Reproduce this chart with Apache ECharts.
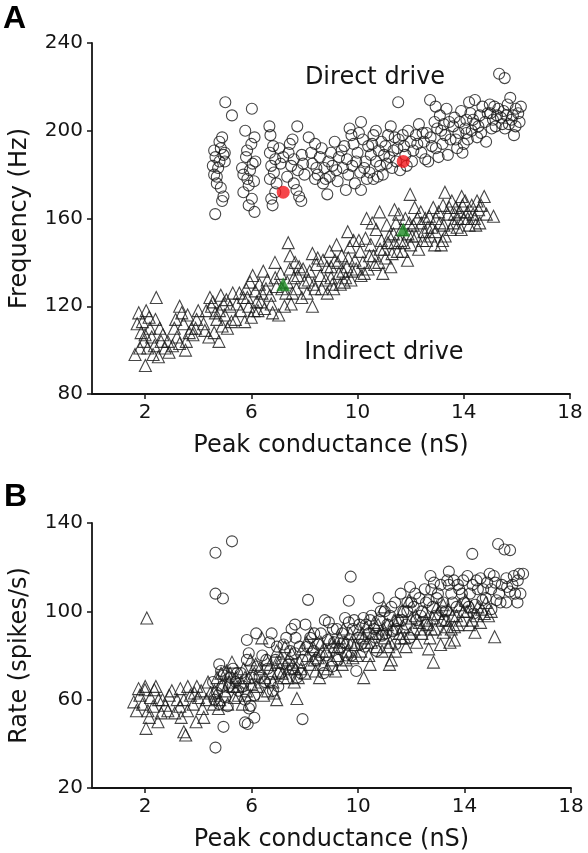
<!DOCTYPE html>
<html><head><meta charset="utf-8">
<script src="https://cdn.jsdelivr.net/npm/echarts@6/dist/echarts.min.js"></script>
<style>html,body{margin:0;padding:0;background:#fff}#c{width:588px;height:853px}</style>
</head><body><div id="c"></div>
<script>
// ---------- DATA ----------
const xTickValues = [2, 6, 10, 14, 18];
const xLabel = 'Peak conductance (nS)';
const yLabelA = 'Frequency (Hz)';
const yLabelB = 'Rate (spikes/s)';

// Panel A: direct drive (circles) [conductance nS, frequency Hz]
const directFreq = [
[4.64,162],[4.9,168],[4.95,170],[4.7,176],[4.6,180],[4.75,183],[4.55,184],[4.8,186],[5.0,186],[4.95,189],[4.6,191],[4.85,192],[4.8,195],[4.9,197],[5.02,213],[5.27,207],[4.7,179],[4.85,174],[5.0,190],[4.65,188],
[5.7,172],[5.9,175],[6.02,169],[6.12,163],[5.7,180],[5.95,182],[6.05,185],[5.84,191],[5.8,188],[6.12,197],[5.77,200],[6.02,210],[6.1,177],[5.9,166],[6.15,186],[5.65,183],[6.0,194],[5.85,178],
[6.68,202],[6.72,198],[6.82,193],[6.7,190],[6.9,187],[6.75,184],[6.85,181],[6.7,178],[6.95,176],[6.75,169],[6.8,166],[7.05,192],[7.1,185],[6.9,172],[7.2,188],
[7.73,202],[7.45,194],[7.4,190],[7.6,187],[7.5,184],[7.75,182],[7.35,179],[7.6,176],[7.7,173],[7.88,168],[7.8,170],[7.95,185],[8.0,180],[7.55,196],[7.9,189],
[8.16,197],[8.4,194],[8.58,188],[8.3,185],[8.75,183],[8.5,180],[8.86,171],[8.9,186],[9.14,195],[9.0,190],[8.7,176],[8.4,178],[9.2,182],[8.95,179],[9.3,188],
[9.56,173],[9.7,201],[9.77,198],[9.5,193],[9.6,187],[9.8,184],[10.13,204],[10.13,173],[9.9,176],[10.0,190],[10.2,196],[10.4,193],[10.3,186],[10.5,189],[10.6,198],[10.1,181],[9.85,194],[10.45,181],[10.6,178],
[10.76,179],[10.69,200],[11.25,202],[11.53,213],[10.9,195],[11.0,189],[11.1,185],[11.4,197],[11.5,192],[11.3,183],[11.6,182],[11.8,189],[12.0,195],[11.9,200],[11.15,198],[10.85,184],[11.7,198],[12.05,186],
[12.31,203],[12.66,186],[12.73,214],[12.94,211],[12.5,195],[12.6,199],[12.8,193],[13.0,201],[13.1,207],[13.3,198],[13.4,189],[12.4,190],[12.9,204],[13.2,194],[13.45,204],[12.2,198],[13.05,188],[13.35,210],
[14.42,214],[14.2,213],[13.9,209],[14.1,205],[14.42,203],[14.84,195],[14.1,199],[13.8,199],[13.6,202],[13.7,196],[14.0,194],[14.3,200],[14.6,207],[14.8,204],[14.5,197],[13.95,190],[14.7,211],[14.25,208],
[15.33,226],[15.54,224],[14.98,212],[15.75,215],[15.89,198],[16.1,204],[15.96,210],[15.3,210],[15.1,205],[15.5,209],[15.2,202],[15.7,203],[15.4,206],[15.65,212],[15.85,207],[16.05,208],[15.0,208],[15.55,201],
[8.25,190],[8.45,183],[8.65,192],[8.8,178],[9.05,184],[9.25,177],[9.4,191],[9.45,183],[9.65,180],[9.95,186],[10.05,199],[10.25,183],[10.35,178],[10.55,194],[10.7,186],[10.8,191],[10.95,180],[11.05,193],[11.2,188],[11.35,191],
[11.45,186],[11.55,196],[11.75,193],[11.85,184],[12.1,191],[12.25,194],[12.45,199],[12.55,187],[12.75,197],[12.95,192],[13.15,200],[13.25,203],[13.5,196],[13.65,206],[13.75,192],[13.85,204],[14.05,201],[14.15,196],[14.35,205],[14.55,202],
[14.65,199],[14.9,208],[15.05,201],[15.25,207],[15.45,203],[15.6,207],[15.8,205],[15.95,202],[16.15,211],[15.15,211]
];

// Panel A: indirect drive (triangles)
const indirectFreq = [
[1.62,98],[2.01,93],[2.5,97],[1.76,117],[2.04,118],[2.42,124],[2.39,114],[2.18,110],[1.7,112],[1.85,108],[1.95,104],[2.1,101],[2.25,106],[1.8,101],[2.3,98],[2.6,104],[1.9,113],[2.15,115],[2.55,110],[2.0,107],
[2.67,107],[3.03,102],[3.38,117],[3.3,120],[3.52,100],[3.66,108],[3.94,114],[2.85,104],[3.1,110],[3.2,106],[3.45,112],[3.8,107],[3.6,116],[3.15,114],[2.9,99],[3.75,110],[3.3,103],[4.0,118],
[4.44,124],[4.78,104],[5.06,123],[4.2,112],[4.3,118],[4.5,120],[4.6,108],[4.7,114],[4.8,118],[4.9,111],[5.0,116],[5.2,120],[5.3,126],[5.4,114],[4.4,106],[4.55,122],[5.1,110],[5.45,121],[4.85,125],[4.25,109],
[5.6,118],[5.7,124],[5.8,128],[5.9,120],[6.05,134],[6.0,115],[6.2,122],[6.3,130],[6.4,126],[6.5,119],[6.6,132],[6.7,125],[6.89,140],[6.8,117],[6.95,129],[5.75,113],[6.15,127],[6.45,136],[6.25,118],[5.95,131],
[7.03,116],[7.39,149],[7.46,143],[7.1,135],[7.3,126],[7.5,121],[7.6,133],[7.7,128],[7.8,138],[7.9,124],[8.0,131],[8.2,136],[8.3,144],[8.3,120],[8.4,128],[8.45,139],[7.25,120],[7.65,140],[8.1,126],[7.45,137],
[8.86,126],[9.21,148],[8.6,134],[8.7,141],[8.8,132],[9.0,138],[9.1,128],[9.3,135],[9.4,143],[9.5,131],[9.6,138],[9.7,147],[9.8,136],[9.9,141],[9.63,154],[8.95,145],[9.25,140],[9.55,133],[9.85,150],[9.05,130],
[10.13,134],[10.34,160],[10.83,163],[11.25,138],[11.39,164],[10.1,145],[10.2,140],[10.3,151],[10.4,137],[10.5,148],[10.6,143],[10.7,155],[10.8,140],[10.9,150],[11.0,146],[11.1,157],[11.2,152],[11.3,144],[11.45,158],[10.55,158],[10.95,135],[11.4,149],
[11.88,141],[11.98,171],[12.38,163],[11.6,150],[11.7,145],[11.8,160],[11.9,153],[12.0,148],[12.1,157],[12.2,152],[12.3,146],[12.4,158],[12.5,154],[12.6,150],[12.7,161],[12.8,156],[12.9,148],[12.94,154],[11.55,162],[12.15,165],[12.55,160],[12.85,165],
[13.15,148],[13.29,172],[13.92,170],[14.14,163],[14.56,164],[14.77,170],[15.12,161],[13.5,155],[13.22,166],[13.78,160],[13.1,158],[13.3,152],[13.4,162],[13.6,158],[13.7,165],[13.9,155],[14.0,160],[14.2,157],[14.3,166],[14.4,160],[14.6,158],[13.55,168],[13.85,163],[14.05,168],[13.2,150],[14.5,168],
[5.55,126],[5.85,124],[6.1,118],[6.35,122],[6.55,128],[6.75,121],[6.9,133],[7.15,128],[7.35,131],[7.55,126],[7.75,134],[7.95,137],[8.15,132],[8.35,130],[8.5,142],[8.65,128],[8.85,138],[9.0,133],[9.15,141],[9.35,130],
[9.45,136],[9.65,142],[9.75,132],[9.95,137],[10.05,150],[10.25,135],[10.45,143],[10.65,139],[10.85,146],[11.05,142],[11.15,149],[11.35,153],[11.5,145],[11.65,155],[11.75,149],[11.95,158],[12.05,152],[12.25,160],[12.45,150],[12.65,156],
[12.75,152],[12.95,160],[13.05,163],[13.25,157],[13.45,165],[13.65,162],[13.75,156],[13.95,166],[14.15,160],[14.35,162],[14.45,157],[14.65,166],[14.85,162],[4.65,117],[4.95,121],[5.25,113],[3.9,110],[3.55,104],[2.75,101],[2.35,102]
];

// Highlighted example cells
const directExamples = [[7.2,172],[11.72,186]];
const indirectExamples = [[7.2,130],[11.72,155]];

// Panel B: direct drive (circles) [conductance nS, rate spikes/s]
const directRate = [
[4.64,126.5],[5.26,131.7],[4.64,108],[4.92,105.8],[9.72,115.7],[9.65,104.8],[8.12,105.2],[14.29,126],[15.26,130.5],[15.5,128],[15.71,127.7],[4.64,38.3],[7.91,51.2],[5.75,49.7],[4.94,47.7],[6.1,51.8],[5.96,57.2],[5.85,49],
[4.78,76],[4.85,73],[4.78,58],[4.7,63],[4.9,66],[4.6,60],[5.0,61],[5.1,57],[5.2,70],[5.4,68],[5.6,72],[5.68,66],[5.82,78],[5.89,81],[5.82,87],[6.17,90],[6.0,70],[6.1,62],[5.9,56],[5.5,64],[6.2,75],[4.95,71],[5.3,74],[4.55,68],
[6.66,86],[6.8,64],[6.5,68],[6.6,74],[6.9,78],[7.08,72],[7.2,85],[7.5,92],[7.63,94],[7.63,81],[7.4,76],[7.3,88],[7.8,84],[7.9,78],[8.02,94],[7.7,70],[6.4,80],[7.0,66],[7.55,74],[6.75,90],
[8.33,82],[8.75,96],[8.9,95],[9.03,75],[9.51,97],[9.65,95],[9.93,73],[8.2,88],[8.5,85],[8.6,90],[8.8,80],[9.1,86],[9.2,92],[9.3,83],[9.4,90],[9.6,85],[9.8,92],[10.0,88],[8.4,78],[9.75,80],[8.7,72],
[10.2,97],[10.7,82],[10.77,106],[11.4,85],[11.6,108],[11.95,111],[11.95,88],[11.39,104],[10.3,94],[10.4,90],[10.5,98],[10.6,92],[10.8,96],[10.9,89],[11.0,100],[11.1,94],[11.2,98],[11.3,91],[11.5,96],[11.7,100],[11.8,94],[12.0,104],[10.1,85],[11.85,104],
[12.09,102],[12.65,105],[12.72,116],[13.41,118],[13.41,112],[13.9,108],[12.2,96],[12.3,106],[12.4,100],[12.5,110],[12.8,102],[12.9,98],[13.0,108],[13.1,112],[13.2,104],[13.3,100],[13.5,108],[13.6,114],[13.7,102],[13.8,110],[14.0,104],[12.6,94],[13.25,96],[12.85,113],
[14.11,116],[14.6,115],[14.94,117],[15.15,113],[15.57,115],[15.85,116],[16.2,117],[15.99,104],[15.57,104],[15.01,101],[14.67,105],[14.2,108],[14.3,112],[14.4,103],[14.5,110],[14.8,106],[15.0,110],[15.3,108],[15.4,112],[15.7,109],[15.8,112],[16.0,114],[14.35,99],[16.1,108],[15.2,105],
[6.3,70],[6.55,78],[6.7,68],[6.95,84],[7.15,76],[7.45,82],[7.65,88],[7.85,72],[8.1,84],[8.35,90],[8.55,80],[8.85,87],[9.05,92],[9.25,78],[9.45,86],[9.55,80],[9.85,96],[10.05,94],[10.25,84],[10.45,96],
[10.65,88],[10.85,100],[11.05,90],[11.25,102],[11.45,92],[11.65,96],[11.85,100],[12.15,108],[12.35,98],[12.55,104],[12.75,110],[12.95,106],[13.15,100],[13.35,114],[13.55,104],[13.75,112],[13.95,114],[14.15,102],[14.45,114],[14.7,110],
[14.85,113],[15.1,116],[15.35,104],[15.6,111],[15.9,108],[16.05,117],[5.15,66],[5.45,72],[5.75,60]
];

// Panel B: indirect drive (triangles)
const indirectRate = [
[1.57,59],[1.67,55],[2.03,47],[2.06,97],[1.99,64.5],[2.34,64.5],[2.48,50],[2.76,57.5],[1.8,62],[1.9,58],[2.1,55],[2.2,61],[2.3,57],[2.0,66],[2.5,60],[2.6,54],[2.9,62],[2.15,52],[1.75,65],[2.4,66],[2.85,55],
[3.11,54],[3.32,65],[3.52,44],[3.45,45.5],[3.59,55],[3.94,66],[3.91,50],[4.15,56],[4.36,68],[3.2,60],[3.3,57],[3.0,64],[3.7,62],[3.8,58],[4.0,61],[4.1,64],[4.2,52],[4.3,60],[4.45,63],[3.6,66],[3.35,52],
[4.57,58],[5.26,77],[5.19,72],[5.96,78],[4.6,64],[4.7,70],[4.8,60],[4.9,67],[5.0,64],[5.05,73],[5.1,58],[5.3,66],[5.4,70],[5.5,62],[5.6,68],[5.7,74],[5.8,64],[5.9,70],[4.75,56],[5.35,61],[5.65,58],[6.0,67],
[6.38,88],[6.94,82],[6.94,60],[7.7,60.5],[7.63,74],[7.35,78],[6.1,72],[6.2,66],[6.3,74],[6.5,70],[6.6,64],[6.7,76],[6.8,68],[7.0,73],[7.1,79],[7.2,70],[7.4,74],[7.5,81],[7.6,68],[7.8,77],[7.9,83],[8.0,72],[6.45,62],[6.85,63],[7.25,84],[7.75,70],
[9.3,88],[8.1,80],[8.2,76],[8.3,84],[8.4,73],[8.5,79],[8.6,86],[8.7,76],[8.8,82],[8.9,88],[9.0,78],[9.1,84],[9.2,80],[9.4,76],[9.5,86],[9.6,82],[9.7,90],[9.8,79],[9.9,85],[10.0,92],[8.55,70],[9.15,73],[9.45,92],[8.25,90],
[10.21,70],[10.97,102],[11.18,76],[11.91,105],[10.1,82],[10.2,88],[10.3,93],[10.4,80],[10.5,86],[10.6,95],[10.7,84],[10.8,90],[10.9,82],[11.0,88],[11.1,94],[11.2,86],[11.3,92],[11.4,82],[11.5,96],[11.6,88],[11.7,93],[11.8,84],[12.0,97],[10.45,76],[11.25,78],[11.65,100],
[12.83,77],[13.2,90.5],[13.62,93],[13.62,87],[14.18,94],[14.39,90.5],[15.13,88.5],[14.74,99],[14.04,105],[13.2,103],[12.5,100],[12.1,92],[12.2,86],[12.3,95],[12.4,90],[12.6,94],[12.7,88],[12.8,97],[12.9,92],[13.0,99],[13.1,85],[13.3,96],[13.4,101],[13.5,92],[13.7,98],[13.8,103],[13.9,96],[14.1,100],[14.3,96],[14.5,102],[14.6,95],[14.8,104],[14.9,98],[15.0,100],[13.45,86],[12.65,83],
[4.65,62],[4.85,72],[5.15,68],[5.45,66],[5.75,70],[5.95,62],[6.15,76],[6.35,68],[6.55,78],[6.75,72],[6.95,77],[7.15,72],[7.35,70],[7.55,76],[7.85,74],[8.05,86],[8.35,78],[8.65,82],[8.85,74],[9.05,86],
[9.25,84],[9.55,78],[9.75,86],[9.95,80],[10.15,90],[10.35,86],[10.55,90],[10.75,94],[10.95,92],[11.15,84],[11.35,96],[11.55,90],[11.75,88],[11.95,90],[12.15,98],[12.35,92],[12.55,96],[12.75,92],[12.95,102],[13.15,96],
[13.35,93],[13.55,98],[13.75,94],[13.95,100],[14.25,102],[14.45,98],[14.65,101],[2.65,60],[3.45,60],[3.85,63]
];

// ---------- CHART ----------
const FONT = 'DejaVu Sans';
const INK = '#141414';
const chart = echarts.init(document.getElementById('c'), null, {renderer: 'canvas'});

function xAxis(gi) {
  return {
    type: 'value', gridIndex: gi, min: 0, max: 18,
    name: xLabel, nameLocation: 'middle', nameGap: 40,
    nameTextStyle: {fontFamily: FONT, fontSize: 24, color: INK},
    axisLine: {show: true, onZero: false, lineStyle: {color: INK, width: 1.8}},
    axisTick: {show: true, inside: false, length: 5, lineStyle: {color: INK, width: 1.5}, customValues: xTickValues},
    axisLabel: {fontFamily: FONT, fontSize: 20, color: INK, margin: 9, customValues: xTickValues},
    splitLine: {show: false}
  };
}
function yAxis(gi, min, max, name, gap) {
  return {
    type: 'value', gridIndex: gi, min: min, max: max, interval: 40,
    name: name, nameLocation: 'middle', nameGap: gap, nameRotate: 90,
    nameTextStyle: {fontFamily: FONT, fontSize: 24, color: INK},
    axisLine: {show: true, onZero: false, lineStyle: {color: INK, width: 1.8}},
    axisTick: {show: true, inside: false, length: 5, lineStyle: {color: INK, width: 1.5}},
    axisLabel: {fontFamily: FONT, fontSize: 20, color: INK, margin: 9},
    splitLine: {show: false}
  };
}
const hollow = {color: 'rgba(0,0,0,0)', borderColor: '#181818', borderWidth: 1.1};

chart.setOption({
  animation: false,
  backgroundColor: '#fff',
  grid: [
    {left: 89, top: 43, width: 481, height: 351},
    {left: 87, top: 523, width: 484, height: 266}
  ],
  xAxis: [xAxis(0), xAxis(1)],
  yAxis: [yAxis(0, 80, 240, yLabelA, 60), yAxis(1, 20, 140, yLabelB, 60)],
  series: [
    {type: 'scatter', xAxisIndex: 0, yAxisIndex: 0, data: directFreq, symbol: 'circle', symbolSize: 11, itemStyle: hollow, silent: true},
    {type: 'scatter', xAxisIndex: 0, yAxisIndex: 0, data: indirectFreq, symbol: 'triangle', symbolSize: 12, itemStyle: hollow, silent: true},
    {type: 'scatter', xAxisIndex: 0, yAxisIndex: 0, data: directExamples, symbol: 'circle', symbolSize: 13, itemStyle: {color: '#f2161c'}, z: 5},
    {type: 'scatter', xAxisIndex: 0, yAxisIndex: 0, data: indirectExamples, symbol: 'triangle', symbolSize: 14, itemStyle: {color: '#1c8a22'}, z: 5},
    {type: 'scatter', xAxisIndex: 1, yAxisIndex: 1, data: directRate, symbol: 'circle', symbolSize: 11, itemStyle: hollow, silent: true},
    {type: 'scatter', xAxisIndex: 1, yAxisIndex: 1, data: indirectRate, symbol: 'triangle', symbolSize: 12, itemStyle: hollow, silent: true}
  ],
  graphic: [
    {type: 'text', left: 3, top: 3, style: {text: 'A', fontFamily: 'Liberation Sans', fontWeight: 'bold', fontSize: 32, fill: '#000'}},
    {type: 'text', left: 4, top: 481, style: {text: 'B', fontFamily: 'Liberation Sans', fontWeight: 'bold', fontSize: 32, fill: '#000'}},
    {type: 'text', x: 375, y: 78, style: {text: 'Direct drive', fontFamily: FONT, fontSize: 24, fill: INK, align: 'center', verticalAlign: 'middle'}},
    {type: 'text', x: 384, y: 353, style: {text: 'Indirect drive', fontFamily: FONT, fontSize: 24, fill: INK, align: 'center', verticalAlign: 'middle'}}
  ]
});
</script>
</body></html>
